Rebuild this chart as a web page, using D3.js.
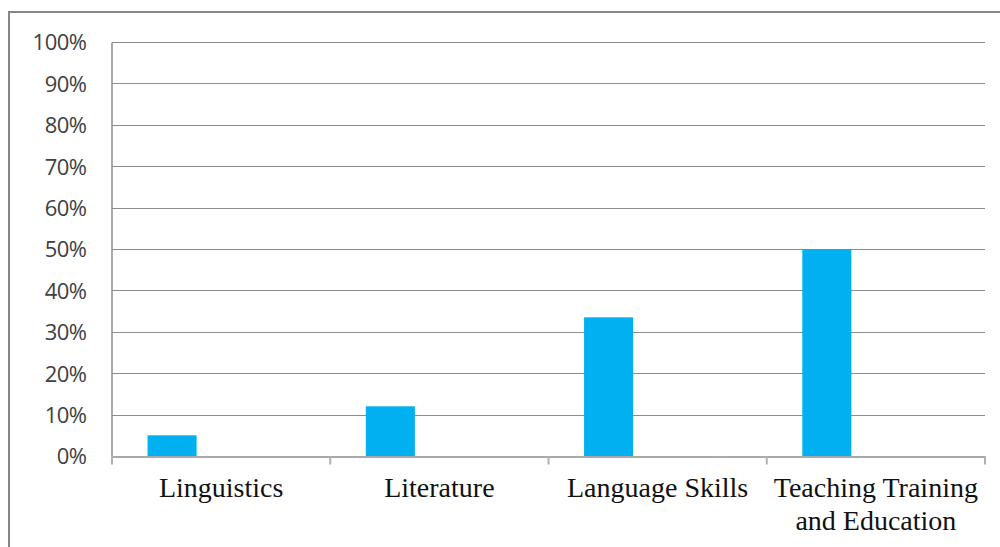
<!DOCTYPE html>
<html>
<head>
<meta charset="utf-8">
<script src="https://cdn.jsdelivr.net/npm/d3@7"></script>
<style>
  body { margin: 0; background: #fff; }
  svg { display: block; }
</style>
</head>
<body>
<svg id="chart" width="1000" height="547"></svg>
<script>
// categories and values
var categories = ["Linguistics", "Literature", "Language Skills", "Teaching Training|and Education"];
var series = ["s1", "s2", "s3"];
var values = [0.05, 0.12, 0.335, 0.50];
var yTicks = [0, 0.1, 0.2, 0.3, 0.4, 0.5, 0.6, 0.7, 0.8, 0.9, 1.0];

var width = 1000, height = 547;
var margin = {left: 112, right: 15, top: 42, bottom: 91};

var svg = d3.select("#chart");

// outer chart frame (only left and top edges are visible)
svg.append("rect")
    .attr("x", 9).attr("y", 12)
    .attr("width", 1010).attr("height", 560)
    .attr("fill", "none")
    .attr("stroke", "#868686")
    .attr("stroke-width", 2);

var x = d3.scaleBand()
    .domain(categories)
    .range([margin.left, width - margin.right]);

// 3 series slots per category, only the first one has data
var xSub = d3.scaleBand()
    .domain(series)
    .range([0, x.bandwidth()])
    .paddingInner(0)
    .paddingOuter(0.725);

var y = d3.scaleLinear()
    .domain([0, 1])
    .range([height - margin.bottom, margin.top]);

// grid lines
svg.append("g")
    .selectAll("line")
    .data(yTicks.slice(1))
    .enter()
    .append("line")
    .attr("x1", margin.left).attr("x2", width - margin.right)
    .attr("y1", function(d) { return Math.round(y(d)) + 0.5; })
    .attr("y2", function(d) { return Math.round(y(d)) + 0.5; })
    .attr("stroke", "#8c8c8c")
    .attr("stroke-width", 1.2);

// y axis
var yAxis = svg.append("g")
    .attr("transform", "translate(" + (margin.left - 0.5) + ",0)")
    .call(d3.axisLeft(y).tickValues(yTicks).tickFormat(d3.format(".0%")).tickSize(0).tickPadding(25));
yAxis.select(".domain").attr("stroke", "#8c8c8c").attr("stroke-width", 1.5);
yAxis.selectAll("text")
    .attr("fill", "#404040")
    .attr("dy", "0.36em")
    .style("font-family", "'Open Sans', Arial, sans-serif")
    .style("font-size", "22px")
    .style("letter-spacing", "-0.5px");

// bars
svg.append("g")
    .selectAll("rect")
    .data(values)
    .enter()
    .append("rect")
    .attr("x", function(d, i) { return x(categories[i]) + xSub("s1"); })
    .attr("width", xSub.bandwidth())
    .attr("y", function(d) { return y(d); })
    .attr("height", function(d) { return y(0) - y(d); })
    .attr("fill", "#00b0f0");

// x axis
var xAxis = svg.append("g")
    .attr("transform", "translate(0," + (Math.round(y(0)) + 0.5) + ")")
    .call(d3.axisBottom(x).tickSize(0).tickFormat(""));
xAxis.select(".domain").attr("stroke", "#8c8c8c").attr("stroke-width", 1.5);

// ticks on category boundaries
var bounds = categories.map(function(c) { return x(c); }).concat([width - margin.right]);
xAxis.selectAll(".bound")
    .data(bounds)
    .enter()
    .append("line")
    .attr("x1", function(d) { return d; })
    .attr("x2", function(d) { return d; })
    .attr("y1", 0).attr("y2", 8)
    .attr("stroke", "#b0b0b0")
    .attr("stroke-width", 2);

// category labels
var labels = svg.append("g")
    .selectAll("text")
    .data(categories)
    .enter()
    .append("text")
    .attr("x", function(d) { return x(d) + x.bandwidth() / 2; })
    .attr("y", 497)
    .attr("text-anchor", "middle")
    .style("font-family", "'Liberation Serif', 'Times New Roman', serif")
    .style("font-size", "28px")
    .attr("fill", "#111");

labels.each(function(d) {
    var parts = d.split("|");
    var t = d3.select(this);
    parts.forEach(function(p, i) {
        t.append("tspan")
            .attr("x", t.attr("x"))
            .attr("dy", i == 0 ? 0 : 33)
            .text(p);
    });
});
</script>
</body>
</html>
